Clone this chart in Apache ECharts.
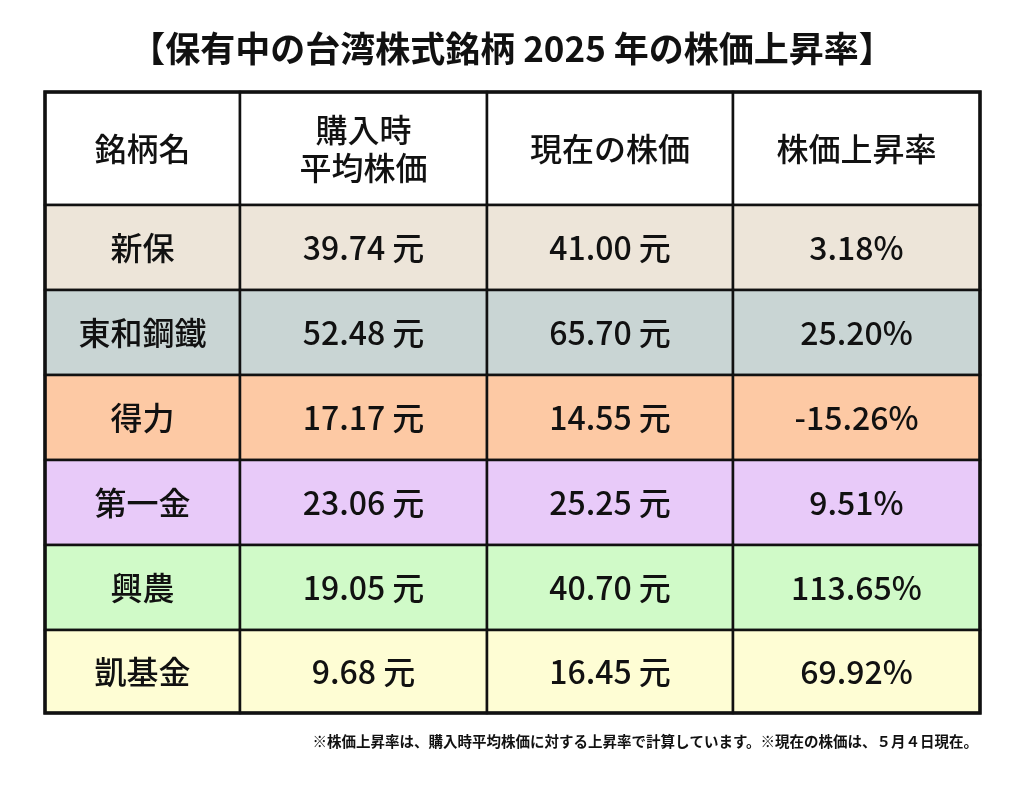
<!DOCTYPE html>
<html><head><meta charset="utf-8">
<script src="https://cdn.jsdelivr.net/npm/echarts@6/dist/echarts.min.js"></script>
<style>html,body{margin:0;background:#fff}#c{width:1024px;height:785px}</style>
</head><body><div id="c"></div>
<script>
const title = '【保有中の台湾株式銘柄 2025 年の株価上昇率】';
const note = '※株価上昇率は、購入時平均株価に対する上昇率で計算しています。※現在の株価は、５月４日現在。';
const headers = ['銘柄名', '購入時\n平均株価', '現在の株価', '株価上昇率'];
const names = ['新保', '東和鋼鐵', '得力', '第一金', '興農', '凱基金'];
const buyPrice = [39.74, 52.48, 17.17, 23.06, 19.05, 9.68];
const currentPrice = [41.00, 65.70, 14.55, 25.25, 40.70, 16.45];
const rate = ['3.18%', '25.20%', '-15.26%', '9.51%', '113.65%', '69.92%'];
const rowColors = ['#EDE5D9', '#C9D5D4', '#FDC9A4', '#E8CAF9', '#D0FAC8', '#FEFDD4'];
const colEdges = [0, 195, 442, 688, 935];
const rowEdges = [0, 113, 198, 283, 368, 453, 538, 621];

const cells = [];
headers.forEach((h, c) => cells.push([colEdges[c], colEdges[c+1], rowEdges[0], rowEdges[1], h, '#ffffff']));
names.forEach((n, r) => {
  const vals = [n, buyPrice[r].toFixed(2) + ' 元', currentPrice[r].toFixed(2) + ' 元', rate[r]];
  vals.forEach((v, c) => cells.push([colEdges[c], colEdges[c+1], rowEdges[r+1], rowEdges[r+2], v, rowColors[r]]));
});

const chart = echarts.init(document.getElementById('c'));
chart.setOption({
  backgroundColor: '#fff',
  title: { text: title, left: 'center', top: 26,
    textStyle: { fontFamily: 'Noto Sans CJK JP', fontSize: 35, fontWeight: 'bold', color: '#111' } },
  graphic: [{ type: 'text', right: 46, top: 734,
    style: { text: note, fontFamily: 'Noto Sans CJK JP', fontSize: 14.5, fill: '#111', fontWeight: 'bold' } }],
  grid: { left: 45, top: 92, width: 935, height: 621 },
  xAxis: { type: 'value', min: 0, max: 935, show: false },
  yAxis: { type: 'value', min: 0, max: 621, inverse: true, show: false },
  series: [{
    type: 'custom',
    data: cells,
    encode: { x: [0, 1], y: [2, 3] },
    renderItem: function (params, api) {
      const p0 = api.coord([api.value(0), api.value(2)]);
      const p1 = api.coord([api.value(1), api.value(3)]);
      const d = cells[params.dataIndex];
      return {
        type: 'group',
        children: [
          { type: 'rect', shape: { x: p0[0], y: p0[1], width: p1[0] - p0[0], height: p1[1] - p0[1] },
            style: { fill: d[5], stroke: '#111', lineWidth: 2.5 } },
          { type: 'text', style: { x: (p0[0] + p1[0]) / 2, y: (p0[1] + p1[1]) / 2, text: d[4],
              align: 'center', verticalAlign: 'middle', fontFamily: 'Noto Sans CJK JP',
              fontSize: 32, fontWeight: 500, fill: '#111', lineHeight: 38 } }
        ]
      };
    }
  }, {
    type: 'custom', data: [[0, 935, 0, 621]], encode: { x: [0, 1], y: [2, 3] }, z: 5,
    renderItem: function (params, api) {
      const p0 = api.coord([0, 0]), p1 = api.coord([935, 621]);
      return { type: 'rect', shape: { x: p0[0], y: p0[1], width: p1[0] - p0[0], height: p1[1] - p0[1] },
        style: { fill: null, stroke: '#111', lineWidth: 3.5 } };
    }
  }]
});
</script></body></html>
